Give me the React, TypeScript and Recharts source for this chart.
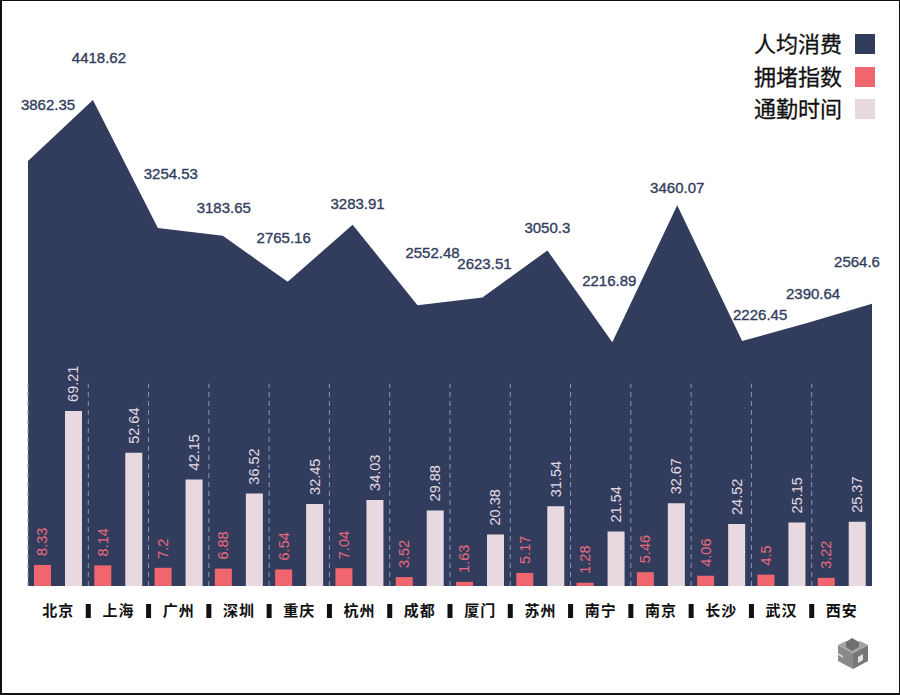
import React from "react";
import { ComposedChart, Area, Bar, XAxis, YAxis, ReferenceLine, Legend, LabelList } from "recharts";

const cities = ["北京", "上海", "广州", "深圳", "重庆", "杭州", "成都", "厦门", "苏州", "南宁", "南京", "长沙", "武汉", "西安"];
const spending = [3862.35, 4418.62, 3254.53, 3183.65, 2765.16, 3283.91, 2552.48, 2623.51, 3050.3, 2216.89, 3460.07, 2226.45, 2390.64, 2564.6];
const congestion = [8.33, 8.14, 7.2, 6.88, 6.54, 7.04, 3.52, 1.63, 5.17, 1.28, 5.46, 4.06, 4.5, 3.22];
const commute = [69.21, 52.64, 42.15, 36.52, 32.45, 34.03, 29.88, 20.38, 31.54, 21.54, 32.67, 24.52, 25.15, 25.37];

const labelDx = [20, 6, 13, 1, -4, 5, 15, 2, 0, -3, 0, 18, 6, -15];
const labelDy = [-57, -42, -54, -28, -44, -21, -53, -34, -23, -62, -18, -27, -30, -42];

const rows = cities.map((city, i) => ({ city, spending: spending[i], congestion: congestion[i], commute: commute[i] }));

const NAVY = "#323d5e";
const ROSE = "#f0666f";
const PALE = "#e8d9e0";
const LATIN = "'Liberation Sans', Arial, sans-serif";
const CJK = "'Noto Sans CJK SC', sans-serif";

const spendingLabel = (p: any) => (
  <text
    x={p.x + labelDx[p.index]}
    y={p.y + labelDy[p.index]}
    textAnchor="middle"
    dominantBaseline="central"
    fontFamily={LATIN}
    fontSize={15}
    fill={NAVY}
    stroke={NAVY}
    strokeWidth={0.35}
  >
    {p.value}
  </text>
);

const verticalLabel = (color: string) => (p: any) => {
  const cx = p.x + p.width / 2;
  const y = p.y - 9;
  return (
    <text
      x={cx}
      y={y}
      transform={`rotate(-90 ${cx} ${y})`}
      textAnchor="start"
      dominantBaseline="central"
      fontFamily={LATIN}
      fontSize={14.5}
      fill={color}
    >
      {p.value}
    </text>
  );
};

const CityTick = (p: any) => {
  const bandStep = 844 / cities.length;
  const last = p.index === cities.length - 1;
  return (
    <g>
      <text
        x={p.x}
        y={p.y + 15}
        textAnchor="middle"
        dominantBaseline="central"
        fontFamily={CJK}
        fontWeight={700}
        fontSize={15}
        letterSpacing={1}
        fill="#111"
      >
        {p.payload.value}
      </text>
      {last ? null : <rect x={p.x + bandStep / 2 - 2.5} y={p.y + 10} width={5} height={14} fill="#111" />}
    </g>
  );
};

const LegendBox = ({ payload }: any) => (
  <div style={{ display: "flex", flexDirection: "column", gap: 0 }}>
    {(payload || []).map((item: any) => (
      <div key={item.value} style={{ display: "flex", alignItems: "center", height: 32.5, justifyContent: "flex-end" }}>
        <span style={{ fontFamily: CJK, fontSize: 22, fontWeight: 400, WebkitTextStroke: "0.3px #111", color: "#111", lineHeight: "32.5px", position: "relative", top: -2 }}>{item.value}</span>
        <span style={{ display: "block", width: 20, height: 20, marginLeft: 13, background: item.color }} />
      </div>
    ))}
  </div>
);

const Logo = () => (
  <svg width={32} height={34} viewBox="0 0 32 34" style={{ position: "absolute", left: 837, top: 636 }}>
    <path d="M1 9 L16 17 L16 33 L1 25 Z" fill="#8a8a8a" />
    <path d="M31 9 L16 17 L16 33 L31 25 Z" fill="#777" />
    <path d="M1 9 L9 5 L16 9 L23 5 L31 9 L16 17 Z" fill="#a3a3a3" />
    <path d="M9 6 L15 2 L22 6 L22 11 L15 15 L9 11 Z" fill="#6f6f6f" />
    <path d="M21 21 L26 18 L26 24 L21 27 Z" fill="#e6e6e6" />
    <path d="M1 17 L6 20 L6 22 L1 19 Z" fill="#d8d8d8" />
  </svg>
);

export default function App() {
  return (
    <div
      style={{
        position: "absolute",
        left: 0,
        top: 0,
        width: 900,
        height: 695,
        background: "#fff",
        overflow: "hidden",
      }}
    >
      <ComposedChart
        width={900}
        height={695}
        data={rows}
        barGap={14}
        margin={{ top: 10, right: 28, bottom: 69, left: 28 }}
      >
        <XAxis
          xAxisId="band"
          dataKey="city"
          scale="band"
          height={40}
          axisLine={false}
          tickLine={false}
          interval={0}
          tick={<CityTick />}
        />
        <XAxis xAxisId="area" dataKey="city" scale="point" padding={{ left: 0, right: 0 }} height={0} hide />
        <YAxis yAxisId="spend" domain={[0, 5236]} hide />
        <YAxis yAxisId="bars" domain={[0, 227.7]} hide />
        <Area
          xAxisId="area"
          yAxisId="spend"
          type="linear"
          dataKey="spending"
          name="人均消费"
          fill={NAVY}
          fillOpacity={1}
          stroke="none"
          dot={false}
          activeDot={false}
          legendType="square"
          isAnimationActive={false}
          color={NAVY}
        >
          <LabelList dataKey="spending" content={spendingLabel} />
        </Area>
        {cities.map((c) => (
          <ReferenceLine
            key={c}
            xAxisId="band"
            yAxisId="bars"
            position="start"
            segment={[{ x: c, y: 0 }, { x: c, y: 80 }]}
            stroke="#8f95ab"
            strokeWidth={1}
            strokeDasharray="5 4"
            ifOverflow="visible"
          />
        ))}
        <Bar
          xAxisId="band"
          yAxisId="bars"
          dataKey="congestion"
          name="拥堵指数"
          fill={ROSE}
          barSize={17}
          isAnimationActive={false}
        >
          <LabelList dataKey="congestion" content={verticalLabel("#e9697c")} />
        </Bar>
        <Bar
          xAxisId="band"
          yAxisId="bars"
          dataKey="commute"
          name="通勤时间"
          fill={PALE}
          barSize={17}
          isAnimationActive={false}
        >
          <LabelList dataKey="commute" content={verticalLabel("#e2dae2")} />
        </Bar>
        <Legend
          layout="horizontal"
          align="center"
          verticalAlign="middle"
          content={<LegendBox />}
          wrapperStyle={{ position: "absolute", top: 28, right: 25, left: "auto", width: "auto" }}
        />
      </ComposedChart>
      <Logo />
      <div
        style={{
          position: "absolute",
          inset: 0,
          boxSizing: "border-box",
          border: "2px solid #111",
          borderTopWidth: 1,
          borderRightWidth: 1,
          pointerEvents: "none",
        }}
      />
    </div>
  );
}
